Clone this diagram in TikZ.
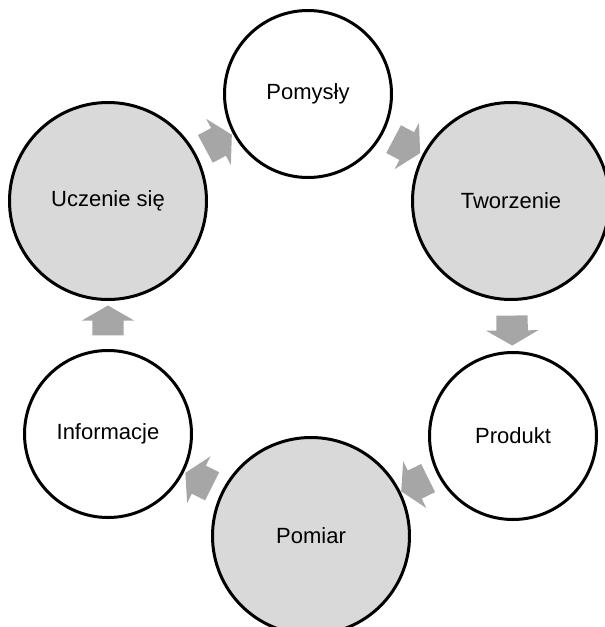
\documentclass[tikz,border=0pt]{standalone}
\usepackage{fontspec}
\setmainfont{Liberation Sans}
\usetikzlibrary{shapes.arrows}
\definecolor{ringgray}{HTML}{D9D9D9}
\definecolor{arrowgray}{HTML}{A6A6A6}
\begin{document}
\begin{tikzpicture}[x=1pt,y=-1pt,
  stage/.style={circle, draw=black, line width=3pt, inner sep=0pt,
    font=\fontsize{22}{26}\selectfont, text=black},
  smallstage/.style={stage, fill=white, minimum size=167pt},
  bigstage/.style={stage, fill=ringgray, minimum size=197pt},
  flow/.style={single arrow, fill=arrowgray, draw=none,
    text height=0pt, text depth=0pt, inner xsep=0pt, inner ysep=15.5pt,
    minimum height=30pt, single arrow head extend=10.5pt,
    single arrow tip angle=120, sloped, allow upside down}]
  \useasboundingbox (0,0) rectangle (605,627);
  \clip (0,0) rectangle (605,627);

  % the six stages of the cycle
  \node[smallstage] (pomysly)    at (308,94)  {Pomysły};
  \node[bigstage]   (tworzenie)  at (511,201) {Tworzenie};
  \node[smallstage] (produkt)    at (513,436) {Produkt};
  \node[bigstage]   (pomiar)     at (311,536) {Pomiar};
  \node[smallstage] (informacje) at (108,434) {Informacje};
  \node[bigstage]   (uczenie)    at (108,201) {Uczenie się};

  % block arrows in the gaps between neighbouring stages
  \path (pomysly)    -- node[flow] (f1) {} (tworzenie);
  \path (tworzenie)  -- node[flow] (f2) {} (produkt);
  \path (produkt)    -- node[flow] (f3) {} (pomiar);
  \path (pomiar)     -- node[flow] (f4) {} (informacje);
  \path (informacje) -- node[flow] (f5) {} (uczenie);
  \path (uczenie)    -- node[flow] (f6) {} (pomysly);
\end{tikzpicture}
\end{document}
